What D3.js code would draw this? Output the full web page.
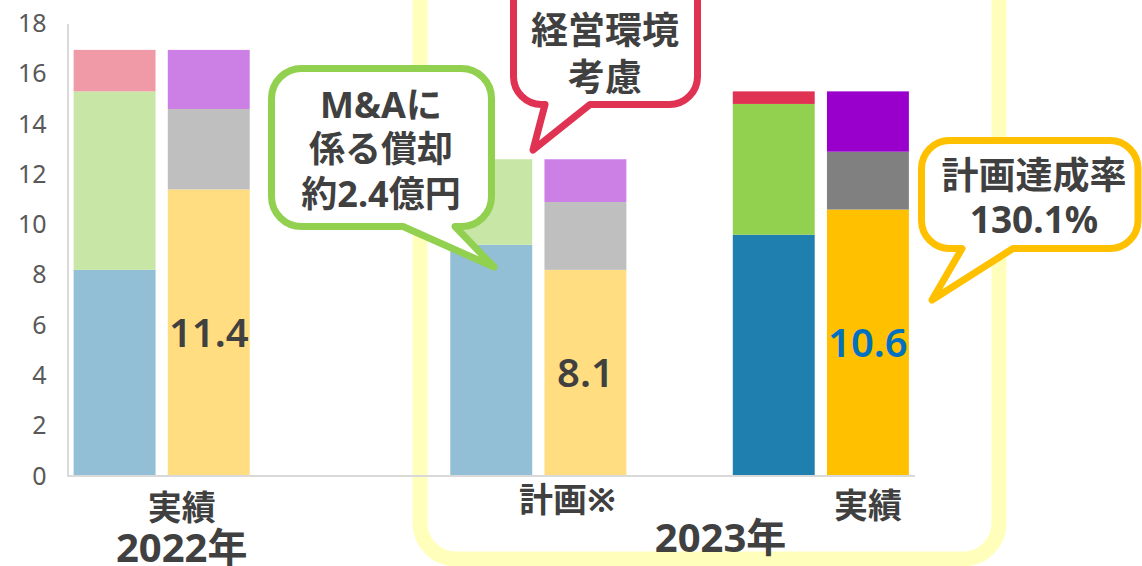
<!DOCTYPE html>
<html>
<head>
<meta charset="utf-8">
<script src="https://cdn.jsdelivr.net/npm/d3@7"></script>
<style>
  html, body { margin: 0; padding: 0; background: #fff; }
  svg { display: block; font-family: "Noto Sans CJK JP", "Noto Sans", sans-serif; }
</style>
</head>
<body>
<svg id="chart" width="1142" height="566"></svg>
<script>
// -------- data --------
const slots = ["2022L", "2022R", "gap1", "gap2", "planL", "planR", "gap3", "2023L", "2023R"]
const barKeys = ["2022L", "2022R", "planL", "planR", "2023L", "2023R"]
const baseVals = [8.2, 11.4, 9.2, 8.2, 9.6, 10.6]
const midVals = [7.1, 3.2, 3.4, 2.7, 5.2, 2.3]
const topVals = [1.65, 2.35, 0, 1.7, 0.5, 2.4]
const valueLabels = ["", "11.4", "", "8.1", "", "10.6"]
const yTicks = [0, 2, 4, 6, 8, 10, 12, 14, 16, 18]
const groupLabels = ["実績", "2022年", "計画※", "2023年", "実績"]

// colours per bar, per layer (base, mid, top)
const colors = [
    ["#92BED6", "#C8E6A5", "#F09AA7"],
    ["#FFDD80", "#BFBFBF", "#CC80E6"],
    ["#92BED6", "#C8E6A5", "#F09AA7"],
    ["#FFDD80", "#BFBFBF", "#CC80E6"],
    ["#1F7FAE", "#92D050", "#E03253"],
    ["#FFC000", "#808080", "#9900CC"]
]
const labelColors = ["#404040", "#404040", "#404040", "#404040", "#404040", "#0070C0"]

const conf = {
    left: 67.5, right: 915, top: 23.5, bottom: 476,
    textColor: "#404040"
}

// -------- chart --------
const svg = d3.select("#chart")

const x = d3.scaleBand().domain(slots).range([conf.left, conf.right])
    .paddingInner(0.13).paddingOuter(0.065)
const y = d3.scaleLinear().domain([0, 18]).range([conf.bottom, conf.top])

// yellow frame round the 2023 group
svg.append("rect")
    .attr("x", 420).attr("y", -40)
    .attr("width", 579).attr("height", 599)
    .attr("rx", 36)
    .attr("fill", "none")
    .attr("stroke", "#FFFFBB")
    .attr("stroke-width", 15)

// stacked bars
const rows = barKeys.map((k, i) => ({key: k, i: i, base: baseVals[i], mid: midVals[i], top: topVals[i]}))
const stack = d3.stack().keys(["base", "mid", "top"])(rows)

stack.forEach((layer, li) => {
    svg.append("g").attr("class", "layer-" + layer.key)
        .selectAll("rect")
        .data(layer)
        .join("rect")
        .attr("x", d => x(d.data.key))
        .attr("width", x.bandwidth())
        .attr("y", d => y(d[1]))
        .attr("height", d => Math.max(0, y(d[0]) - y(d[1])))
        .attr("fill", d => colors[d.data.i][li])
})

// value labels in the middle of the base segment
svg.append("g").selectAll("text")
    .data(rows.filter(d => valueLabels[d.i] !== ""))
    .join("text")
    .attr("x", d => x(d.key) + x.bandwidth() / 2)
    .attr("y", d => y(d.base / 2))
    .attr("dy", "0.36em")
    .attr("text-anchor", "middle")
    .attr("font-family", "'Noto Sans', 'Noto Sans CJK JP', sans-serif")
    .attr("font-size", 40)
    .attr("font-weight", 600)
    .attr("fill", d => labelColors[d.i])
    .text(d => valueLabels[d.i])

// axes
const yAxis = d3.axisLeft(y).tickValues(yTicks).tickSize(0).tickPadding(21)
const gy = svg.append("g")
    .attr("transform", "translate(" + conf.left + ",0)")
    .call(yAxis)
gy.select(".domain").attr("stroke", "#D9D9D9").attr("stroke-width", 2)
gy.selectAll("text")
    .attr("font-size", 25)
    .attr("font-family", "'Noto Sans', sans-serif")
    .attr("fill", "#595959")

svg.append("line")
    .attr("x1", conf.left).attr("x2", conf.right)
    .attr("y1", y(0)).attr("y2", y(0))
    .attr("stroke", "#D9D9D9").attr("stroke-width", 2)

// category labels
const mid = k => x(k) + x.bandwidth() / 2
const labelPos = [
    [(mid("2022L") + mid("2022R")) / 2 + 20, 508, 34],
    [(mid("2022L") + mid("2022R")) / 2 + 20, 548, 40],
    [mid("planR") - 18, 500, 34],
    [mid("gap3") + 41, 538, 40],
    [mid("2023R"), 506, 34]
]
svg.append("g").selectAll("text")
    .data(groupLabels)
    .join("text")
    .attr("x", (d, i) => labelPos[i][0])
    .attr("y", (d, i) => labelPos[i][1])
    .attr("dy", "0.36em")
    .attr("text-anchor", "middle")
    .attr("font-family", "'Noto Sans', 'Noto Sans CJK JP', sans-serif")
    .attr("font-size", (d, i) => labelPos[i][2])
    .attr("font-weight", 700)
    .attr("fill", conf.textColor)
    .text(d => d)

// -------- callouts --------
function calloutPath(c) {
    let r = c.r
    return "M" + (c.x0 + r) + "," + c.y0 +
        " H" + (c.x1 - r) +
        " A" + r + "," + r + " 0 0 1 " + c.x1 + "," + (c.y0 + r) +
        " V" + (c.y1 - r) +
        " A" + r + "," + r + " 0 0 1 " + (c.x1 - r) + "," + c.y1 +
        " H" + c.px1 +
        " L" + c.tx + "," + c.ty +
        " L" + c.px0 + "," + c.y1 +
        " H" + (c.x0 + r) +
        " A" + r + "," + r + " 0 0 1 " + c.x0 + "," + (c.y1 - r) +
        " V" + (c.y0 + r) +
        " A" + r + "," + r + " 0 0 1 " + (c.x0 + r) + "," + c.y0 + " Z"
}

const callouts = [
    {x0: 271.5, y0: 68.5, x1: 491.5, y1: 226.5, r: 30, px0: 403, px1: 455, tx: 494, ty: 267,
        stroke: "#92D050", cx: 381, lines: ["M&Aに", "係る償却", "約2.4億円"], ly: [105, 149, 194], size: 36},
    {x0: 513.5, y0: -40, x1: 697.5, y1: 104.5, r: 28, px0: 545, px1: 590, tx: 533, ty: 150,
        stroke: "#E03253", cx: 605, lines: ["経営環境", "考慮"], ly: [31, 78], size: 37},
    {x0: 921.5, y0: 140.5, x1: 1138, y1: 248.5, r: 28, px0: 962, px1: 1013, tx: 932, ty: 300,
        stroke: "#FFC000", cx: 1034, lines: ["計画達成率", "130.1%"], ly: [176, 220], size: 37}
]

callouts.forEach(c => {
    let g = svg.append("g").attr("class", "callout")
    g.append("path")
        .attr("d", calloutPath(c))
        .attr("fill", "#fff")
        .attr("stroke", c.stroke)
        .attr("stroke-width", 7)
        .attr("stroke-linejoin", "round")
    g.selectAll("text")
        .data(c.lines)
        .join("text")
        .attr("x", c.cx)
        .attr("y", (d, i) => c.ly[i])
        .attr("dy", "0.36em")
        .attr("text-anchor", "middle")
        .attr("font-family", "'Noto Sans', 'Noto Sans CJK JP', sans-serif")
        .attr("font-size", c.size)
        .attr("font-weight", 700)
        .attr("fill", conf.textColor)
        .text(d => d)
})
</script>
</body>
</html>
